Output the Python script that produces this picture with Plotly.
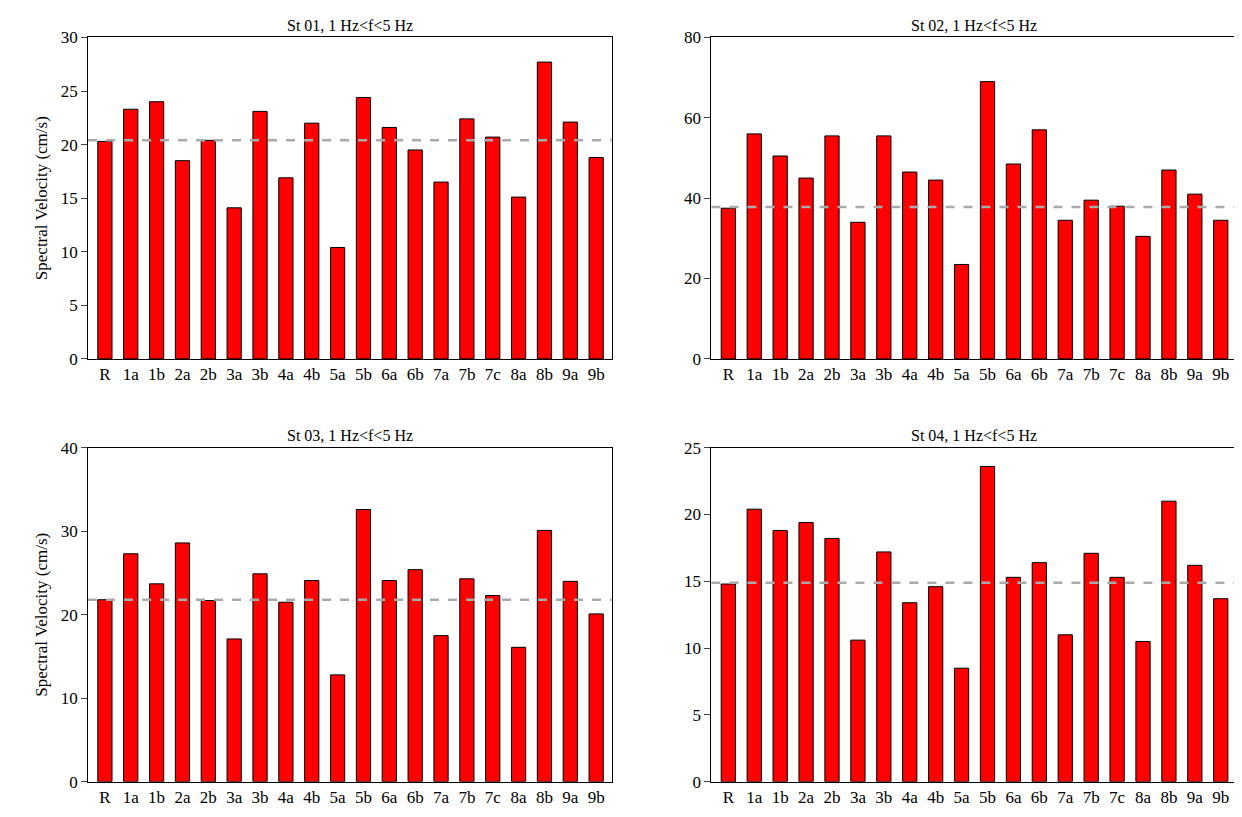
import plotly.graph_objects as go

cats = ["R", "1a", "1b", "2a", "2b", "3a", "3b", "4a", "4b", "5a", "5b",
        "6a", "6b", "7a", "7b", "7c", "8a", "8b", "9a", "9b"]

st01 = [20.3, 23.3, 24.0, 18.5, 20.4, 14.1, 23.1, 16.9, 22.0, 10.4, 24.4,
        21.6, 19.5, 16.5, 22.4, 20.7, 15.1, 27.7, 22.1, 18.8]
st02 = [37.5, 56.0, 50.5, 45.0, 55.5, 34.0, 55.5, 46.5, 44.5, 23.5, 69.0,
        48.5, 57.0, 34.5, 39.5, 38.0, 30.5, 47.0, 41.0, 34.5]
st03 = [21.8, 27.3, 23.7, 28.6, 21.7, 17.1, 24.9, 21.5, 24.1, 12.8, 32.6,
        24.1, 25.4, 17.5, 24.3, 22.3, 16.1, 30.1, 24.0, 20.1]
st04 = [14.8, 20.4, 18.8, 19.4, 18.2, 10.6, 17.2, 13.4, 14.6, 8.5, 23.6,
        15.3, 16.4, 11.0, 17.1, 15.3, 10.5, 21.0, 16.2, 13.7]

titles = ["St 01, 1 Hz<f<5 Hz", "St 02, 1 Hz<f<5 Hz",
          "St 03, 1 Hz<f<5 Hz", "St 04, 1 Hz<f<5 Hz"]
series = [st01, st02, st03, st04]
ref_lines = [20.4, 37.8, 21.8, 14.9]
y_max = [30, 80, 40, 25]
y_step = [5, 20, 10, 5]

x_domains = [[0.065, 0.490], [0.571, 0.997], [0.065, 0.490], [0.571, 0.997]]
y_domains = [[0.565, 0.974], [0.565, 0.974], [0.027, 0.452], [0.027, 0.452]]

fig = go.Figure()
layout = {}
annotations = []
shapes = []
for i in range(4):
    n = "" if i == 0 else str(i + 1)
    fig.add_trace(go.Bar(x=cats, y=series[i], marker=dict(color="#ff0000", line=dict(color="black", width=1)),
                         width=0.55, xaxis="x" + n, yaxis="y" + n, showlegend=False))
    layout["xaxis" + n] = dict(domain=x_domains[i], anchor="y" + n, range=[-0.65, 19.6],
                               showline=True, mirror=True, linecolor="black", ticks="",
                               tickfont=dict(size=17), showgrid=False)
    layout["yaxis" + n] = dict(domain=y_domains[i], anchor="x" + n, range=[0, y_max[i]],
                               dtick=y_step[i], showline=True, mirror=True, linecolor="black",
                               ticks="outside", ticklen=6, tickfont=dict(size=17), showgrid=False,
                               zeroline=False)
    if i in (0, 2):
        layout["yaxis" + n]["title"] = dict(text="Spectral Velocity (cm/s)", font=dict(size=17), standoff=8)
    shapes.append(dict(type="line", xref="x" + n + " domain", yref="y" + n,
                       x0=0, x1=1, y0=ref_lines[i], y1=ref_lines[i],
                       line=dict(color="#aaaaaa", width=2.5, dash="dash"), layer="above"))
    annotations.append(dict(text=titles[i], xref="paper", yref="paper",
                            x=sum(x_domains[i]) / 2, y=y_domains[i][1] + 0.002,
                            xanchor="center", yanchor="bottom", showarrow=False,
                            font=dict(size=16)))

fig.update_layout(**layout)
fig.update_layout(
    width=1232, height=805,
    margin=dict(l=0, r=0, t=0, b=0),
    plot_bgcolor="white", paper_bgcolor="white",
    font=dict(family="Liberation Serif", color="black"),
    annotations=annotations, shapes=shapes, bargap=0.3,
)
fig.write_html("out.html")
